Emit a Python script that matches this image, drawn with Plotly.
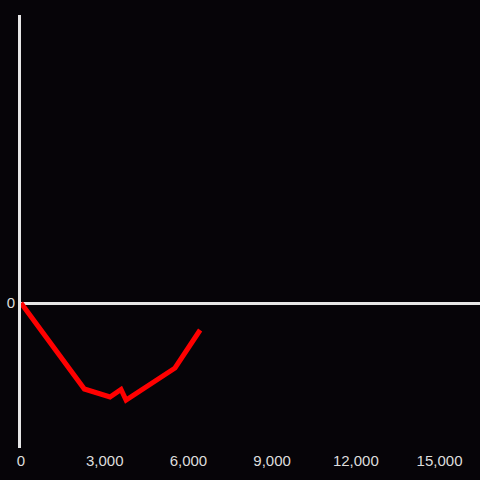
import plotly.graph_objects as go

x_vals = [0, 2270, 3190, 3585, 3765, 5520, 6420]
y_vals = [0, -860, -940, -865, -970, -650, -270]
x_ticks = [0, 3000, 6000, 9000, 12000, 15000]
x_tick_text = ["0", "3,000", "6,000", "9,000", "12,000", "15,000"]

BG = "#060408"

fig = go.Figure(go.Scatter(x=x_vals, y=y_vals, mode="lines",
                           line=dict(color="#ff0000", width=5)))

fig.update_layout(
    width=480, height=480,
    paper_bgcolor=BG, plot_bgcolor=BG,
    margin=dict(l=21, r=0, t=15, b=32),
    showlegend=False,
    font=dict(family="Liberation Sans, Arial, sans-serif", size=15, color="#dddddd"),
    xaxis=dict(range=[0, 16450], tickvals=x_ticks, ticktext=x_tick_text,
               showgrid=False, zeroline=False, showline=False, ticks="",
               ticklabelstandoff=2),
    yaxis=dict(range=[-1450, 2880], tickvals=[0], ticktext=["0"],
               showgrid=False, zeroline=True, zerolinecolor="#e6e6e6", zerolinewidth=3,
               showline=True, linecolor="#e6e6e6", linewidth=3, ticks=""),
)

fig.write_html("out.html", config={"displayModeBar": False},
               post_script=f"document.body.style.margin='0';document.body.style.background='{BG}';")
